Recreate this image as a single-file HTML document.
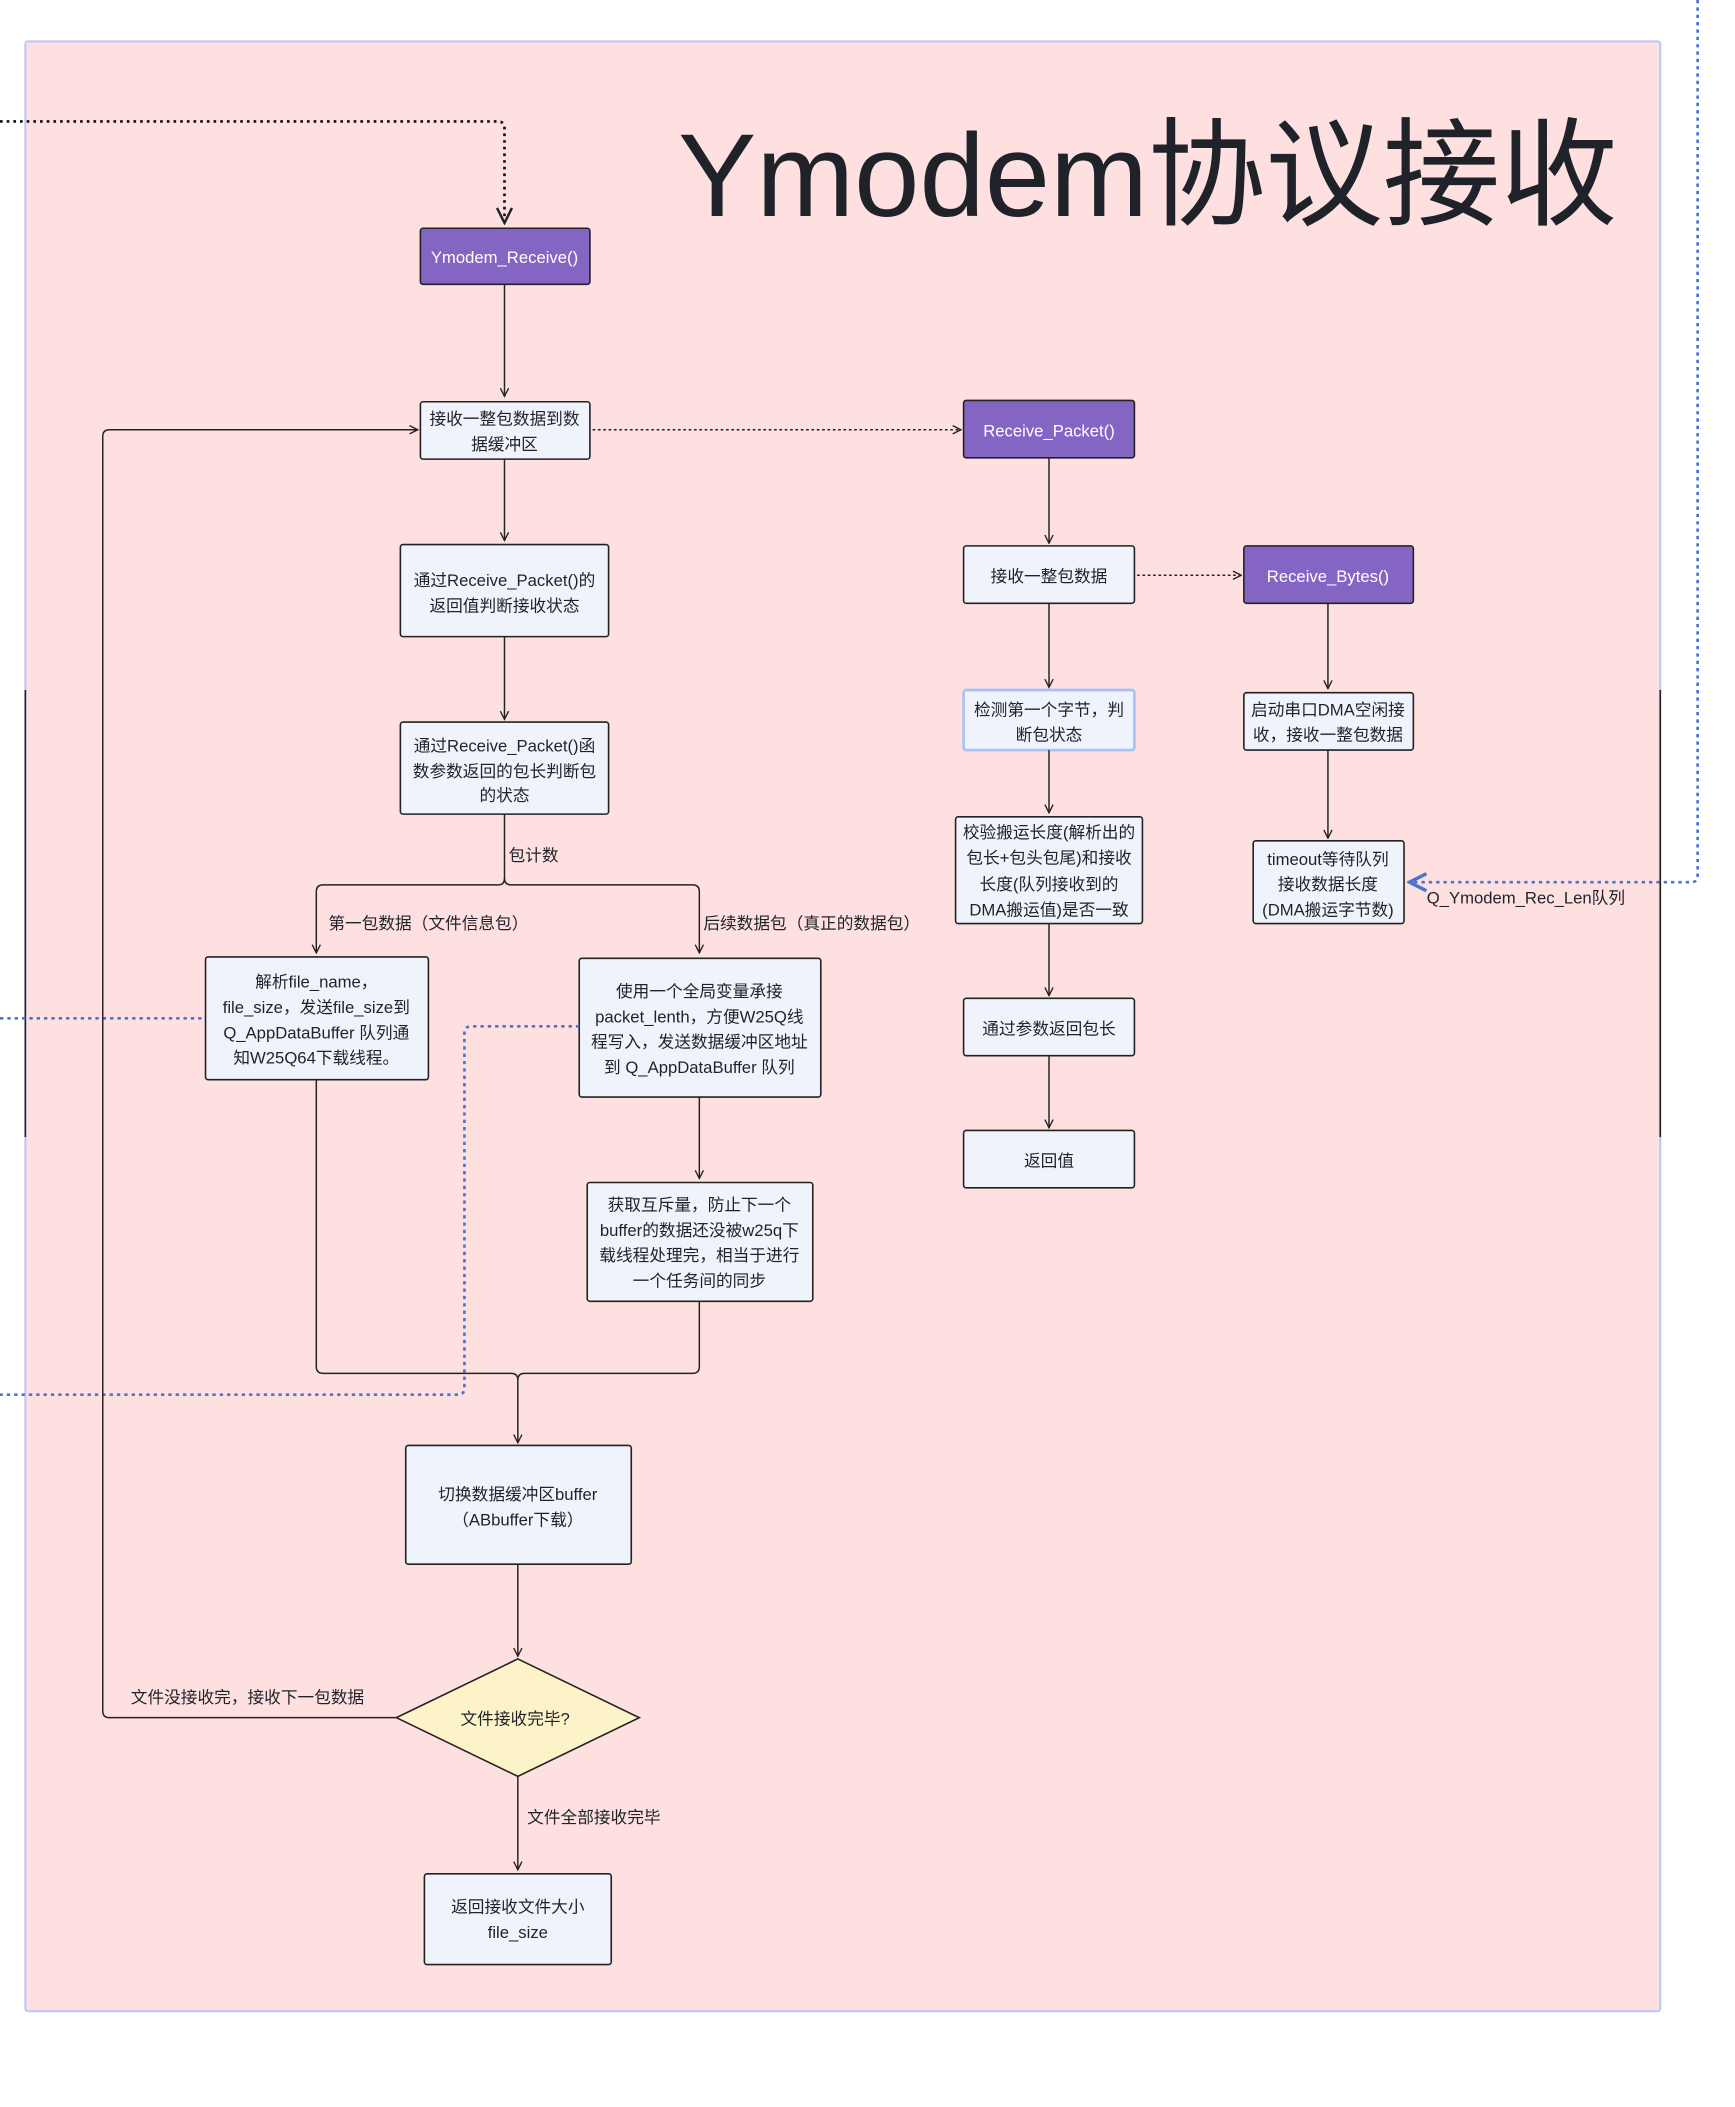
<!DOCTYPE html>
<html><head><meta charset="utf-8"><style>
html,body{margin:0;padding:0;background:#fff;width:1735px;height:2107px;overflow:hidden}
svg{display:block}
text{font-family:"Liberation Sans","Noto Sans CJK SC",sans-serif;fill:#1f2329;font-size:12.5px}
.w{fill:#fff}
.n{fill:#eef3fc;stroke:#222;stroke-width:1.2}
.p{fill:#8565c4;stroke:#222;stroke-width:1.2}
.l{fill:none;stroke:#222;stroke-width:1.1}
.b{fill:none;stroke:#4a74d0;stroke-width:2;stroke-dasharray:2.5 3}
</style></head><body>
<svg width="1735" height="2107" viewBox="0 0 1300 1578.7" xmlns="http://www.w3.org/2000/svg">
<defs><marker id="a" viewBox="0 0 10 10" refX="9" refY="5" markerWidth="7" markerHeight="7" orient="auto"><path d="M1,1 L9,5 L1,9" fill="none" stroke="#222" stroke-width="1.3"/></marker>
<marker id="ab" viewBox="0 0 10 10" refX="9" refY="5" markerWidth="8" markerHeight="8" orient="auto"><path d="M1,1 L9,5 L1,9" fill="none" stroke="#4a74d0" stroke-width="1.6"/></marker></defs>
<rect x="19" y="31" width="1225" height="1476" fill="#fee0e1" stroke="#b8c8f8" stroke-width="1.5" rx="2"/>
<line x1="19" y1="517" x2="19" y2="852" stroke="#222" stroke-width="1.2"/>
<line x1="1244" y1="517" x2="1244" y2="852" stroke="#222" stroke-width="1.2"/>
<text x="508" y="162" style="font-size:88px">Ymodem协议接收</text>
<path d="M0,91 H373 Q378,91 378,96 V167" fill="none" stroke="#111" stroke-width="2" stroke-dasharray="2 3" marker-end="url(#a)"/>
<!-- left column -->
<rect class="p" x="315" y="171" width="127" height="42" rx="2"/><text class="w" x="378" y="197" text-anchor="middle">Ymodem_Receive()</text>
<path class="l" d="M378,213 V297" marker-end="url(#a)"/>
<rect class="n" x="315" y="301" width="127" height="43" rx="2"/><text x="378" y="318" text-anchor="middle">接收一整包数据到数</text><text x="378" y="337" text-anchor="middle">据缓冲区</text>
<path d="M444,322 H720" fill="none" stroke="#222" stroke-width="1.1" stroke-dasharray="2 2" marker-end="url(#a)"/>
<path class="l" d="M378,344 V405" marker-end="url(#a)"/>
<rect class="n" x="300" y="408" width="156" height="69" rx="2"/><text x="378" y="439" text-anchor="middle">通过Receive_Packet()的</text><text x="378" y="458" text-anchor="middle">返回值判断接收状态</text>
<path class="l" d="M378,477 V539" marker-end="url(#a)"/>
<rect class="n" x="300" y="541" width="156" height="69" rx="2"/><text x="378" y="563" text-anchor="middle">通过Receive_Packet()函</text><text x="378" y="582" text-anchor="middle">数参数返回的包长判断包</text><text x="378" y="600" text-anchor="middle">的状态</text>
<text x="381" y="645">包计数</text>
<path class="l" d="M378,610 V658 Q378,663 373,663 H242 Q237,663 237,668 V714" marker-end="url(#a)"/>
<path class="l" d="M378,658 Q378,663 383,663 H519 Q524,663 524,668 V714" marker-end="url(#a)"/>
<text x="246" y="696">第一包数据（文件信息包）</text>
<text x="527" y="696">后续数据包（真正的数据包）</text>
<rect class="n" x="154" y="717" width="167" height="92" rx="2"/>
<text x="237" y="740" text-anchor="middle">解析file_name，</text><text x="237" y="759" text-anchor="middle">file_size，发送file_size到</text><text x="237" y="778" text-anchor="middle">Q_AppDataBuffer 队列通</text><text x="237" y="797" text-anchor="middle">知W25Q64下载线程。</text>
<rect class="n" x="434" y="718" width="181" height="104" rx="2"/>
<text x="524" y="747" text-anchor="middle">使用一个全局变量承接</text><text x="524" y="766" text-anchor="middle">packet_lenth，方便W25Q线</text><text x="524" y="785" text-anchor="middle">程写入，发送数据缓冲区地址</text><text x="524" y="804" text-anchor="middle">到 Q_AppDataBuffer 队列</text>
<path class="l" d="M524,822 V883" marker-end="url(#a)"/>
<rect class="n" x="440" y="886" width="169" height="89" rx="2"/>
<text x="524" y="907" text-anchor="middle">获取互斥量，防止下一个</text><text x="524" y="926" text-anchor="middle">buffer的数据还没被w25q下</text><text x="524" y="945" text-anchor="middle">载线程处理完，相当于进行</text><text x="524" y="964" text-anchor="middle">一个任务间的同步</text>
<path class="l" d="M237,809 V1024 Q237,1029 242,1029 H383 Q388,1029 388,1034 V1081" marker-end="url(#a)"/>
<path class="l" d="M524,975 V1024 Q524,1029 519,1029 H393 Q388,1029 388,1034"/>
<path class="b" d="M0,763 H154"/>
<path class="b" d="M434,769 H353 Q348,769 348,774 V1040 Q348,1045 343,1045 H0"/>
<rect class="n" x="304" y="1083" width="169" height="89" rx="2"/>
<text x="388" y="1124" text-anchor="middle">切换数据缓冲区buffer</text><text x="388" y="1143" text-anchor="middle">（ABbuffer下载）</text>
<path class="l" d="M388,1172 V1241" marker-end="url(#a)"/>
<polygon points="388,1243 479,1287 388,1331 297,1287" fill="#fdf3c8" stroke="#222" stroke-width="1.2"/>
<text x="386" y="1292" text-anchor="middle">文件接收完毕?</text>
<path class="l" d="M297,1287 H82 Q77,1287 77,1282 V327 Q77,322 82,322 H313" marker-end="url(#a)"/>
<text x="98" y="1276">文件没接收完，接收下一包数据</text>
<path class="l" d="M388,1331 V1401" marker-end="url(#a)"/>
<text x="395" y="1366">文件全部接收完毕</text>
<rect class="n" x="318" y="1404" width="140" height="68" rx="2"/>
<text x="388" y="1433" text-anchor="middle">返回接收文件大小</text><text x="388" y="1452" text-anchor="middle">file_size</text>
<!-- middle column -->
<rect class="p" x="722" y="300" width="128" height="43" rx="2"/><text class="w" x="786" y="327" text-anchor="middle">Receive_Packet()</text>
<path class="l" d="M786,343 V407" marker-end="url(#a)"/>
<rect class="n" x="722" y="409" width="128" height="43" rx="2"/><text x="786" y="436" text-anchor="middle">接收一整包数据</text>
<path d="M852,431 H930" fill="none" stroke="#222" stroke-width="1.1" stroke-dasharray="2 2" marker-end="url(#a)"/>
<path class="l" d="M786,452 V515" marker-end="url(#a)"/>
<rect x="722" y="517" width="128" height="45" rx="2" fill="#eef3fc" stroke="#a9c2f5" stroke-width="2"/>
<text x="786" y="536" text-anchor="middle">检测第一个字节，判</text><text x="786" y="555" text-anchor="middle">断包状态</text>
<path class="l" d="M786,562 V609" marker-end="url(#a)"/>
<rect class="n" x="716" y="612" width="140" height="80" rx="2"/>
<text x="786" y="628" text-anchor="middle">校验搬运长度(解析出的</text><text x="786" y="647" text-anchor="middle">包长+包头包尾)和接收</text><text x="786" y="667" text-anchor="middle">长度(队列接收到的</text><text x="786" y="686" text-anchor="middle">DMA搬运值)是否一致</text>
<path class="l" d="M786,692 V746" marker-end="url(#a)"/>
<rect class="n" x="722" y="748" width="128" height="43" rx="2"/><text x="786" y="775" text-anchor="middle">通过参数返回包长</text>
<path class="l" d="M786,791 V845" marker-end="url(#a)"/>
<rect class="n" x="722" y="847" width="128" height="43" rx="2"/><text x="786" y="874" text-anchor="middle">返回值</text>
<!-- right column -->
<rect class="p" x="932" y="409" width="127" height="43" rx="2"/><text class="w" x="995" y="436" text-anchor="middle">Receive_Bytes()</text>
<path class="l" d="M995,452 V516" marker-end="url(#a)"/>
<rect class="n" x="932" y="519" width="127" height="43" rx="2"/>
<text x="995" y="536" text-anchor="middle">启动串口DMA空闲接</text><text x="995" y="555" text-anchor="middle">收，接收一整包数据</text>
<path class="l" d="M995,562 V628" marker-end="url(#a)"/>
<rect class="n" x="939" y="630" width="113" height="62" rx="2"/>
<text x="995" y="648" text-anchor="middle">timeout等待队列</text><text x="995" y="667" text-anchor="middle">接收数据长度</text><text x="995" y="686" text-anchor="middle">(DMA搬运字节数)</text>
<path class="b" d="M1272,0 V656 Q1272,661 1267,661 H1056" marker-end="url(#ab)"/>
<text x="1069" y="677">Q_Ymodem_Rec_Len队列</text>
</svg>
</body></html>
